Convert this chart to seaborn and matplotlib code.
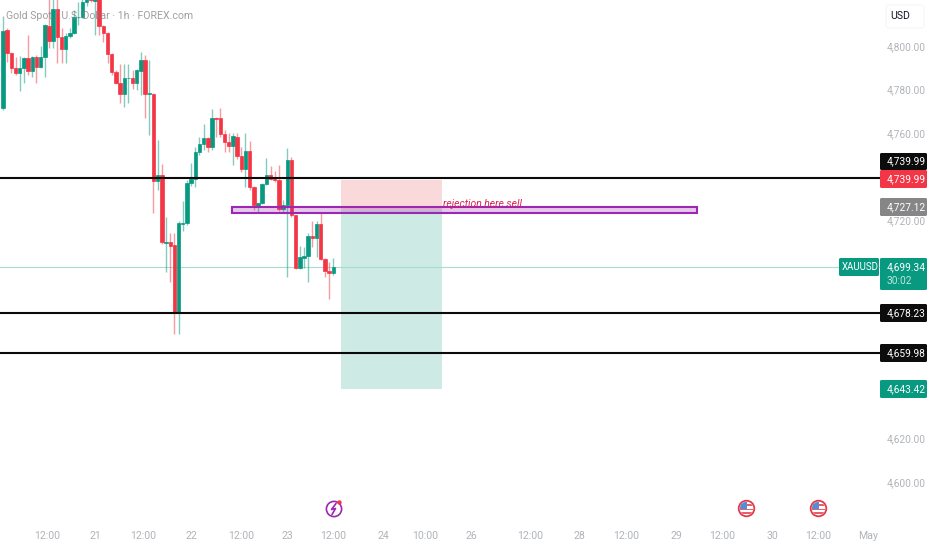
import matplotlib
matplotlib.use("Agg")
import matplotlib.pyplot as plt
from matplotlib.patches import Rectangle, FancyBboxPatch, Circle
from matplotlib.transforms import ScaledTranslation
import numpy as np
import pandas as pd
import seaborn as sns

# ---- candle data (hourly XAUUSD) ----
opens = [4772.2,4808.0,4797.5,4790.6,4788.3,4790.6,4795.2,4789.2,4795.6,4791.0,
         4795.6,4809.9,4803.0,4817.7,4804.8,4799.3,4805.3,4806.7,4813.8,4814.0,
         4820.5,4823.0,4821.0,4824.0,4809.9,4806.7,4797.0,4788.7,4783.7,4778.6,
         4785.8,4786.0,4783.7,4789.2,4794.3,4778.6,4778.6,4738.6,4741.4,4710.1,
         4710.6,4709.2,4678.8,4718.8,4719.3,4737.7,4739.5,4752.0,4755.6,4758.4,
         4754.3,4767.6,4767.6,4760.2,4756.5,4754.7,4758.8,4750.1,4744.1,4752.4,
         4735.9,4727.1,4728.5,4737.2,4741.4,4739.5,4739.1,4725.7,4727.6,4748.3,
         4723.0,4698.6,4703.3,4704.1,4713.3,4712.4,4718.8,4702.8,4697.2,4696.3]
highs = [4814.5,4809.0,4797.9,4795.6,4796.1,4795.6,4805.8,4796.1,4796.6,4800.7,
         4810.8,4825.0,4825.0,4825.0,4809.0,4806.7,4809.0,4817.2,4820.9,4823.0,
         4826.0,4827.0,4826.0,4826.0,4810.3,4806.9,4797.5,4789.7,4792.4,4792.4,
         4792.4,4789.7,4790.1,4797.9,4796.6,4794.3,4778.8,4757.5,4746.4,4722.1,
         4714.7,4714.7,4720.2,4729.4,4739.1,4746.9,4754.3,4758.8,4764.8,4758.8,
         4771.7,4767.8,4772.2,4762.1,4760.7,4760.7,4760.7,4754.3,4760.7,4757.0,
         4736.3,4728.5,4737.7,4749.2,4745.5,4743.2,4746.0,4729.9,4753.8,4749.7,
         4723.2,4708.7,4708.3,4714.7,4720.2,4720.2,4723.9,4703.2,4701.4,4703.2]
lows = [4771.3,4793.3,4788.3,4787.4,4780.0,4783.7,4787.4,4786.4,4783.7,4790.6,
        4786.4,4799.8,4799.8,4792.9,4792.9,4792.9,4804.4,4806.2,4810.3,4813.6,
        4819.0,4820.5,4805.8,4805.8,4802.5,4792.9,4787.4,4783.2,4774.5,4772.6,
        4774.5,4780.9,4780.5,4778.2,4767.6,4759.8,4723.9,4734.5,4709.7,4696.8,
        4692.2,4668.7,4668.7,4715.6,4718.4,4736.3,4735.9,4750.6,4752.9,4752.0,
        4752.9,4758.8,4758.8,4752.0,4752.0,4746.0,4748.7,4742.8,4735.9,4734.5,
        4725.3,4724.4,4728.0,4736.8,4739.1,4738.2,4724.8,4724.4,4694.5,4722.1,
        4698.4,4698.2,4698.6,4692.2,4708.3,4703.7,4702.3,4694.5,4684.4,4695.8]
closes = [4807.6,4797.5,4790.6,4788.3,4790.6,4795.2,4789.2,4795.6,4791.0,4795.6,
          4810.3,4803.0,4817.7,4804.8,4799.3,4805.3,4806.7,4814.0,4814.0,4820.5,
          4823.0,4821.5,4824.0,4809.9,4806.7,4797.0,4788.7,4783.7,4778.6,4786.0,
          4786.0,4783.7,4789.7,4794.3,4778.6,4779.1,4738.6,4741.4,4710.6,4710.6,
          4708.7,4678.8,4719.3,4719.3,4737.7,4739.5,4752.0,4755.6,4758.4,4754.3,
          4767.6,4767.2,4760.2,4756.5,4754.7,4759.3,4750.1,4744.1,4752.4,4735.9,
          4727.6,4728.5,4737.2,4741.4,4739.5,4739.1,4725.7,4727.6,4748.3,4723.0,
          4698.6,4703.7,4704.1,4713.3,4712.4,4718.8,4702.8,4697.2,4696.3,4699.34]

level_lines = [4739.99, 4678.23, 4659.98]
last_price = 4699.34
stop_price, entry_price, target_price = 4739.1, 4725.5, 4643.42
zone_start, zone_end = 80.9, 105.1
rej_low, rej_high = 4723.9, 4726.7
rej_start, rej_end = 54.8, 166.0

price_ticks = [4600, 4620, 4720, 4760, 4780, 4800]
time_pos = [10.5, 22, 33.5, 45, 57, 68, 79, 91, 101, 112, 126, 138, 149, 161, 172, 184, 195, 207]
time_labels = ["12:00","21","12:00","22","12:00","23","12:00","24","10:00","26",
               "12:00","28","12:00","29","12:00","30","12:00","May"]

GREEN, RED = "#089981", "#F23645"
GREY = "#B0B3B8"

sns.set_theme(style="white")
plt.rcParams["font.family"] = ["Roboto", "DejaVu Sans"]

W, H = 932, 550
fig = plt.figure(figsize=(W / 100, H / 100), dpi=100, facecolor="white")
ax = fig.add_axes([0, (H - 516) / H, 880 / W, 516 / H])

df = pd.DataFrame({"i": np.arange(len(opens)), "o": opens, "h": highs, "l": lows, "c": closes})
df["top"] = df[["o", "c"]].max(axis=1)
df["bot"] = df[["o", "c"]].min(axis=1)
df["size"] = df["top"] - df["bot"]
df["up"] = df["c"] >= df["o"]

for up, col in [(True, GREEN), (False, RED)]:
    sub = df[df["up"] == up]
    ax.vlines(sub["i"], sub["l"], sub["h"], color=col, lw=1.0, alpha=0.5, zorder=2)
    sns.barplot(data=sub, x="i", y="size", bottom=sub["bot"].values, native_scale=True,
                color=col, saturation=1, width=0.82, errorbar=None, ax=ax,
                edgecolor=col, linewidth=0.5, zorder=3)

ax.set_xlim(-0.72, 209.8)
ax.set_ylim(4585.1, 4821.64)

# trade zones
ax.add_patch(Rectangle((zone_start, entry_price), zone_end - zone_start, stop_price - entry_price,
                       facecolor="#FAD9DB", edgecolor="none", zorder=1))
ax.add_patch(Rectangle((zone_start, target_price), zone_end - zone_start, entry_price - target_price,
                       facecolor="#CDEAE4", edgecolor="none", zorder=1))
ax.axhline(last_price, color="#A6DCD1", lw=0.8, zorder=1.5)
for lv in level_lines:
    ax.axhline(lv, color="#0A0A0A", lw=1.5, zorder=4)
ax.add_patch(Rectangle((rej_start, rej_low), rej_end - rej_start, rej_high - rej_low,
                       facecolor=(0.61, 0.15, 0.69, 0.25), edgecolor="#9C27B0", lw=1.5, zorder=5))
ax.text(105.3, 4728.3, "rejection here sell", color="#DC2350", fontsize=7.5, style="italic",
        va="center", ha="left", zorder=6)

ax.yaxis.tick_right()
ax.set_yticks(price_ticks)
ax.set_yticklabels([f"{v:,.2f}" for v in price_ticks])
ax.set_xticks(time_pos)
ax.set_xticklabels(time_labels)
ax.tick_params(axis="y", length=0, pad=4.5, labelsize=7.3, labelcolor=GREY)
ax.tick_params(axis="x", length=0, pad=11, labelsize=7.6, labelcolor=GREY)
shift = ScaledTranslation(0, 1.5 / 100, fig.dpi_scale_trans)
for lab in ax.get_yticklabels():
    lab.set_transform(lab.get_transform() + shift)
ax.set_xlabel("")
ax.set_ylabel("")
for s in ax.spines.values():
    s.set_visible(False)
ax.grid(False)

# overlay in picture pixels for the TradingView widgets
ov = fig.add_axes([0, 0, 1, 1], facecolor="none")
ov.set_xlim(0, W)
ov.set_ylim(H, 0)
ov.axis("off")

ov.text(6, 16, "Gold Spot / U.S. Dollar · 1h · FOREX.com", color="#7F7F7F", alpha=0.75,
        fontsize=7.6, va="center", ha="left")

def tag(y0, y1, colour, text, x0=880, x1=927, fg="white", text_x=887, text_y=None, size=7.3):
    ov.add_patch(FancyBboxPatch((x0 + 1, y0 + 1), x1 - x0 - 2, y1 - y0 - 2,
                                boxstyle="round,pad=1,rounding_size=1.5",
                                facecolor=colour, edgecolor="none", zorder=10))
    ov.text(text_x, (y0 + y1) / 2 if text_y is None else text_y, text, color=fg, fontsize=size,
            va="center", ha="left", zorder=11)

tag(153, 170, "#0C0C0C", "4,739.99")
tag(170, 188, RED, "4,739.99")
tag(198, 216, "#868686", "4,727.12")
tag(258, 290, GREEN, "4,699.34", text_y=267)
ov.text(887, 281, "30:02", color="#BFE6DE", fontsize=7.3, va="center", ha="left", zorder=11)
tag(258, 276, GREEN, "XAUUSD", x0=839, x1=879, text_x=842, size=6.9)
tag(304, 322, "#0C0C0C", "4,678.23")
tag(344, 362, "#0C0C0C", "4,659.98")
tag(380, 398, GREEN, "4,643.42")

ov.add_patch(FancyBboxPatch((886, 5), 38, 23, boxstyle="round,pad=0,rounding_size=3",
                            facecolor="white", edgecolor="#F6F6F6", lw=0.8, zorder=10))
ov.text(890, 16, "USD", color="#131722", fontsize=7.6, va="center", ha="left", zorder=11)

# event icons
PURPLE = "#9C27B0"
ov.add_patch(Circle((334, 509), 7.6, facecolor="white", edgecolor=PURPLE, lw=1.2, zorder=10))
ov.plot([336, 331.5, 335.5, 332], [503.5, 509.5, 508.5, 514.5], color=PURPLE, lw=1.2, zorder=11)
ov.add_patch(Circle((339.5, 502.5), 2.2, facecolor=RED, edgecolor="none", zorder=12))

for cx in (746.5, 818.5):
    ring = Circle((cx, 508.5), 7.8, facecolor="white", edgecolor="#E5394A", lw=1.3, zorder=10)
    ov.add_patch(ring)
    clip = Circle((cx, 508.5), 6.6, transform=ov.transData)
    for (yy, hh) in [(503.5, 2), (508.5, 1.8), (512, 2.4)]:
        r = Rectangle((cx - 7, yy), 14, hh, facecolor="#E5606C", edgecolor="none", zorder=11)
        ov.add_patch(r)
        r.set_clip_path(clip)
    b = Rectangle((cx - 7, 501), 7, 7.5, facecolor="#4F8FD8", edgecolor="none", zorder=12)
    ov.add_patch(b)
    b.set_clip_path(clip)

fig.savefig("out.png", dpi=100, facecolor="white")
